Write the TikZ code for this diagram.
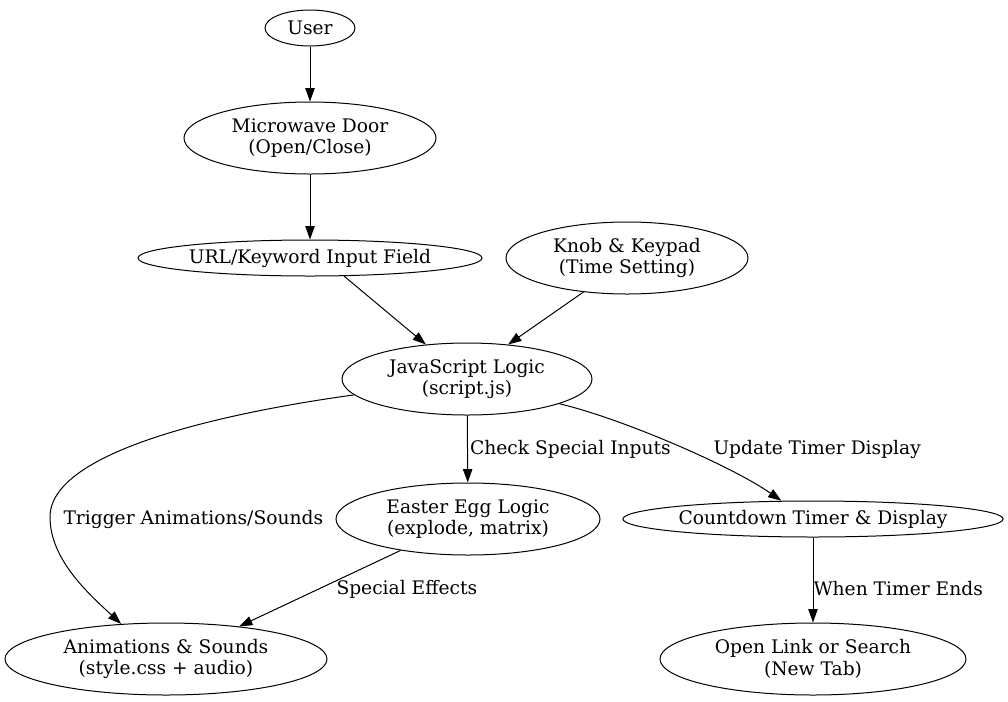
\documentclass[tikz,border=0pt]{standalone}
\usepackage{fontspec}
\setmainfont{DejaVu Serif}
\usetikzlibrary{arrows.meta, shapes.geometric}

\begin{document}
\begin{tikzpicture}[
            x = 0.75pt, y = -0.75pt, % one unit per pixel, y going down
            > = {Triangle[length=10pt, width=7pt]}, % arrow head style
            line width = 0.75pt, % line style
            font = \fontsize{14}{16}\selectfont
        ]

        \tikzset{
            oval/.style 2 args = {
                ellipse,
                draw = black,
                inner sep = 0pt,
                align = center,
                minimum width = #1,
                minimum height = #2
            },
            edge/.style = {->, draw = black},
            edgelabel/.style = {anchor = west, inner sep = 0pt}
        }

        \useasboundingbox (0,0) rectangle (1008,701);

        \node[oval={67.5pt}{27pt}] (user) at (310,28) {User};
        \node[oval={189pt}{54pt}] (door) at (310,138) {Microwave Door\\(Open/Close)};
        \node[oval={258pt}{27pt}] (input) at (310,258) {URL/Keyword Input Field};
        \node[oval={181.5pt}{54pt}] (knob) at (627,258) {Knob \& Keypad\\(Time Setting)};
        \node[oval={187.5pt}{54pt}] (logic) at (467,379) {JavaScript Logic\\(script.js)};
        \node[oval={198pt}{54pt}] (egg) at (468,519) {Easter Egg Logic\\(explode, matrix)};
        \node[oval={285pt}{27pt}] (timer) at (813,519) {Countdown Timer \& Display};
        \node[oval={241.5pt}{54pt}] (anim) at (166,659) {Animations \& Sounds\\(style.css + audio)};
        \node[oval={229.5pt}{54pt}] (open) at (813,659) {Open Link or Search\\(New Tab)};

        \draw[edge] (user) -- (door);
        \draw[edge] (door) -- (input);
        \draw[edge] (input.-28) -- (logic.140);
        \draw[edge] (knob.218) -- (logic.40);
        \draw[edge] (logic) -- node[edgelabel, midway, xshift=1.5pt] {Check Special Inputs} (egg);
        \draw[edge] (logic.188) .. controls (230,412) and (50,450) .. (50,517)
            .. controls (50,560) and (90,595) .. (anim.142);
        \draw[edge] (logic.-15) .. controls (620,418) and (730,465) .. (timer.150);
        \draw[edge] (egg.205) -- (anim.24);
        \draw[edge] (timer) -- node[edgelabel, pos=0.6] {When Timer Ends} (open);

        \node[edgelabel] (ltrigger) at (63,519) {Trigger Animations/Sounds};
        \node[edgelabel] (lupdate) at (713,449) {Update Timer Display};
        \node[edgelabel] (leffects) at (336,589) {Special Effects};

    \end{tikzpicture}
\end{document}
